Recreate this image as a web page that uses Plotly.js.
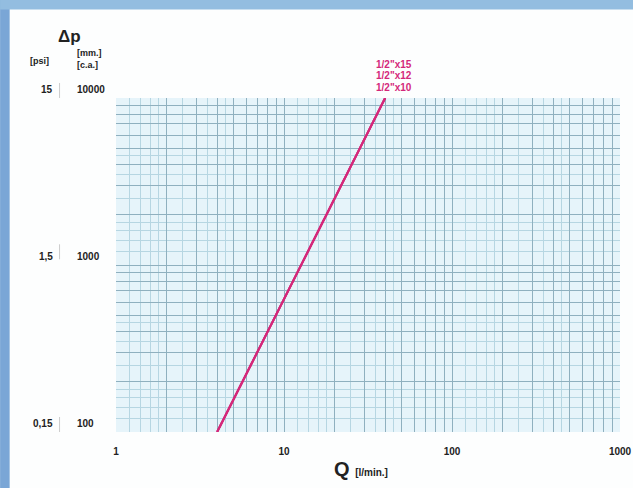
<!DOCTYPE html>
<html><head><meta charset="utf-8">
<script src="https://cdn.plot.ly/plotly-3.0.1.min.js"></script>
<style>html,body{margin:0;padding:0;background:#fff}#chart{width:633px;height:488px}</style>
</head><body><div id="chart"></div>
<script>
// Data
var seriesNames = ['1/2"x15', '1/2"x12', '1/2"x10'];
var flowQ = [4, 40];                 // l/min
var dpMM = [100, 10000];             // mm c.a.
var xTickVals = [1, 10, 100, 1000];
var xTickText = ['1', '10', '100', '1000'];
var yTickVals = [100, 1000, 10000];
var yTickMM = ['100', '1000', '10000'];
var yTickPsi = ['0,15', '1,5', '15'];

var lineColor = '#d4287a';
var font = 'Liberation Sans, Arial, sans-serif';

// log-paper grid positions (styling only)
function gridVals(d0, d1) {
  var major = [], fine = [];
  for (var e = d0; e < d1; e++) {
    var b = Math.pow(10, e);
    for (var k = 1; k <= 9; k++) {
      major.push(k * b);
      var step = k < 2 ? 0.2 : (k < 5 ? 0.5 : 0);
      if (step) for (var f = k + step; f < k + 1 - 1e-9; f += step) fine.push(f * b);
    }
  }
  major.push(Math.pow(10, d1));
  return {major: major, fine: fine};
}
var gx = gridVals(0, 3), gy = gridVals(2, 4);
function labelFor(vals, tv, tt) {
  return vals.map(function (v) { var i = tv.indexOf(v); return i >= 0 ? '<b>' + tt[i] + '</b>' : ''; });
}

var traces = seriesNames.map(function (n) {
  return {x: flowQ, y: dpMM, type: 'scatter', mode: 'lines', name: n,
    line: {color: lineColor, width: 2}, hoverinfo: 'skip'};
});

var ann = [];
yTickVals.forEach(function (v, i) {
  ann.push({xref: 'paper', yref: 'y', x: -0.0814, y: Math.log10(v), text: '<b>' + yTickMM[i] + '</b>',
    xanchor: 'left', yanchor: 'bottom', yshift: 1, showarrow: false, font: {family: font, size: 10, color: '#222'}});
  ann.push({xref: 'paper', yref: 'y', x: -0.121, y: Math.log10(v), text: '<b>' + yTickPsi[i] + '</b>',
    xanchor: 'right', yanchor: 'bottom', yshift: 1, showarrow: false, font: {family: font, size: 10, color: '#222'}});
});
ann.push({xref: 'paper', yref: 'paper', x: -0.092, y: 1.15, text: '<b>Δp</b>', xanchor: 'center', yanchor: 'bottom',
  showarrow: false, font: {family: font, size: 17, color: '#222'}});
ann.push({xref: 'paper', yref: 'paper', x: -0.128, y: 1.09, text: '<b>[psi]</b>', xanchor: 'right', yanchor: 'bottom',
  showarrow: false, font: {family: font, size: 9, color: '#222'}});
ann.push({xref: 'paper', yref: 'paper', x: -0.0814, y: 1.077, text: '<b>[mm.]<br>[c.a.]</b>', xanchor: 'left', yanchor: 'bottom',
  showarrow: false, align: 'left', font: {family: font, size: 9, color: '#222'}});
seriesNames.forEach(function (n, i) {
  ann.push({xref: 'paper', yref: 'paper', x: 0.551, y: 1.101 - i * 0.035, text: '<b>' + n + '</b>',
    xanchor: 'center', yanchor: 'middle', showarrow: false, font: {family: font, size: 10, color: lineColor}});
});
ann.push({xref: 'paper', yref: 'paper', x: 0.428, y: -0.112, text: '<b>Q</b> <span style="font-size:10px"><b>[l/min.]</b></span>',
  xanchor: 'left', yanchor: 'middle', showarrow: false, font: {family: font, size: 20, color: '#222'}});

var layout = {
  width: 633, height: 488,
  margin: {l: 116, r: 13, t: 98, b: 56},
  paper_bgcolor: '#fdfefe', plot_bgcolor: '#e6f4fa',
  showlegend: false,
  xaxis: {type: 'log', range: [0, 3], tickmode: 'array', tickvals: gx.major,
    ticktext: labelFor(gx.major, xTickVals, xTickText), ticklabelstandoff: 12,
    tickfont: {family: font, size: 10, color: '#222'}, ticks: '', showline: false, zeroline: false,
    gridcolor: '#8fb0bf', gridwidth: 1,
    minor: {tickmode: 'array', tickvals: gx.fine, ticks: '', showgrid: true, gridcolor: '#b6d6e2', gridwidth: 1}},
  yaxis: {type: 'log', range: [2, 4], tickmode: 'array', tickvals: gy.major, showticklabels: false,
    ticks: '', showline: false, zeroline: false,
    gridcolor: '#8fb0bf', gridwidth: 1,
    minor: {tickmode: 'array', tickvals: gy.fine, ticks: '', showgrid: true, gridcolor: '#b6d6e2', gridwidth: 1}},
  annotations: ann,
  shapes: [
    {type: 'rect', xref: 'paper', yref: 'paper', x0: -0.23, x1: -0.211, y0: -0.17, y1: 1.3, fillcolor: '#7aa6d6', line: {width: 0}, layer: 'below'},
    {type: 'rect', xref: 'paper', yref: 'paper', x0: -0.23, x1: 1.03, y0: 1.265, y1: 1.3, fillcolor: '#93bde0', line: {width: 0}, layer: 'below'},
    {type: 'line', xref: 'paper', yref: 'paper', x0: -0.112, x1: -0.112, y0: 1.0, y1: 1.045, line: {color: '#ccc', width: 1}},
    {type: 'line', xref: 'paper', yref: 'paper', x0: -0.112, x1: -0.112, y0: 0.517, y1: 0.562, line: {color: '#ccc', width: 1}},
    {type: 'line', xref: 'paper', yref: 'paper', x0: -0.112, x1: -0.112, y0: 0.0, y1: 0.045, line: {color: '#ccc', width: 1}}
  ]
};

Plotly.newPlot('chart', traces, layout, {displayModeBar: false, staticPlot: true});
</script></body></html>
